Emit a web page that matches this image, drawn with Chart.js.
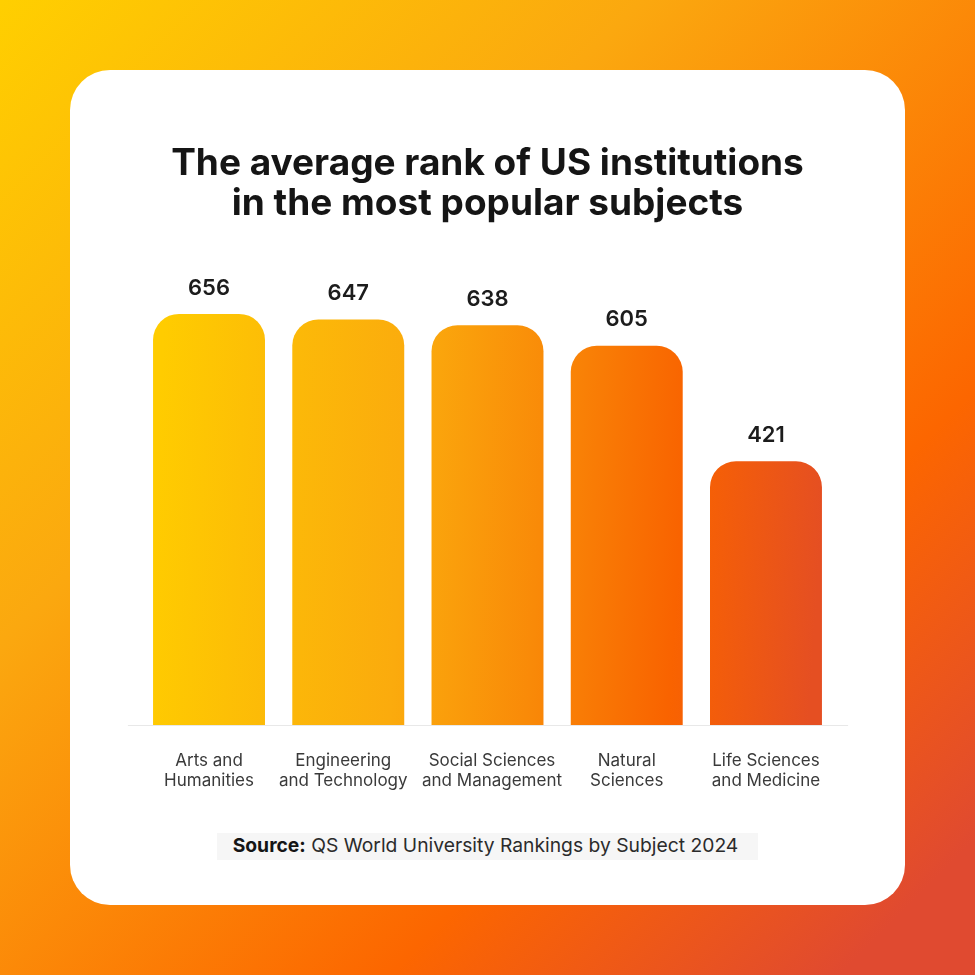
<!DOCTYPE html>
<html>
<head>
<meta charset="utf-8">
<script src="https://cdn.jsdelivr.net/npm/chart.js@4"></script>
<style>
html, body { margin: 0; padding: 0; width: 975px; height: 975px; overflow: hidden; }
body { position: relative; background: linear-gradient(135deg, #ffcf00 0%, #fba80f 33%, #fc6600 70%, #e04a30 93%, #e04a30 100%); }
#card { position: absolute; left: 70px; top: 70px; width: 835px; height: 835px; background: #fff; border-radius: 40px; }
#myChart { position: absolute; left: 0; top: 0; }
#source { position: absolute; left: 217px; top: 833px; width: 537px; height: 27px; padding-right: 4px; line-height: 25px; background: #f6f6f6; text-align: center; font-family: Inter, sans-serif; font-size: 19.3px; color: #2b2b2b; white-space: nowrap; }
#source b { font-weight: 700; color: #151515; }
</style>
</head>
<body>
<div id="card"></div>
<canvas id="myChart" width="975" height="975"></canvas>
<div id="source"><b>Source:</b> QS World University Rankings by Subject 2024</div>
<script>
var titleLines = ["The average rank of US institutions", "in the most popular subjects"];
var categories = [
    ["Arts and", "Humanities"],
    ["Engineering", "and Technology"],
    ["Social Sciences", "and Management"],
    ["Natural", "Sciences"],
    ["Life Sciences", "and Medicine"]
];
var avgRank = [656, 647, 638, 605, 421];
// the two long labels sit a little off their bar centres in the original
var labelNudge = [0, -5, 4.5, 0, 0];

// nearly horizontal gradient shared by all the bars
function barGradient(context) {
    var area = context.chart.chartArea;
    if (!area) return "#fba80f";
    var g = context.chart.ctx.createLinearGradient(area.left + 14, area.top + 195, area.right - 14, area.bottom - 200);
    g.addColorStop(0, "#ffcc00");
    g.addColorStop(0.2, "#fcb908");
    g.addColorStop(0.375, "#fbab0d");
    g.addColorStop(0.58, "#f98a08");
    g.addColorStop(0.79, "#f96300");
    g.addColorStop(1, "#e54f22");
    return g;
}

// value labels, category labels and the baseline that runs wider than the plot
var barExtras = {
    id: "barExtras",
    afterDatasetsDraw: function(chart) {
        var c = chart.ctx;
        var x = chart.scales.x;
        var y0 = chart.scales.y.getPixelForValue(0);
        c.save();
        c.strokeStyle = "#e8e8e8";
        c.lineWidth = 1;
        c.beginPath();
        c.moveTo(chart.chartArea.left - 11.5, y0 + 0.5);
        c.lineTo(chart.chartArea.right + 12.5, y0 + 0.5);
        c.stroke();
        c.textAlign = "center";
        c.textBaseline = "middle";
        c.fillStyle = "#1c1c1c";
        c.font = "600 22px Inter";
        chart.getDatasetMeta(0).data.forEach(function(bar, i) {
            c.fillText(avgRank[i], bar.x, bar.y - 26);
        });
        c.fillStyle = "#3a3a3a";
        c.font = "400 17px Inter";
        categories.forEach(function(lines, i) {
            lines.forEach(function(line, j) {
                c.fillText(line, x.getPixelForTick(i) + labelNudge[i], y0 + 35.5 + j * 20);
            });
        });
        c.restore();
    }
};

var ctx = document.getElementById("myChart");
var barGraph = new Chart(ctx, {
    type: "bar",
    data: {
        labels: categories,
        datasets: [{
            label: "Average rank",
            data: avgRank,
            backgroundColor: barGradient,
            borderRadius: 26,
            barPercentage: 1,
            categoryPercentage: 0.804
        }]
    },
    options: {
        responsive: false,
        animation: false,
        layout: { padding: { left: 139.4, right: 139.4, top: 0, bottom: 180 } },
        plugins: {
            legend: { display: false },
            tooltip: { enabled: false },
            title: {
                display: true,
                text: titleLines,
                color: "#151515",
                font: { family: "Inter", size: 37, weight: "700", lineHeight: 1.08 },
                padding: { top: 144, bottom: 62.4 }
            }
        },
        scales: {
            x: {
                grid: { display: false },
                border: { display: false },
                ticks: { display: false },
                afterFit: function(scale) { scale.height = 70; }
            },
            y: { display: false, min: 0, max: 700 }
        }
    },
    plugins: [barExtras]
});
</script>
</body>
</html>
